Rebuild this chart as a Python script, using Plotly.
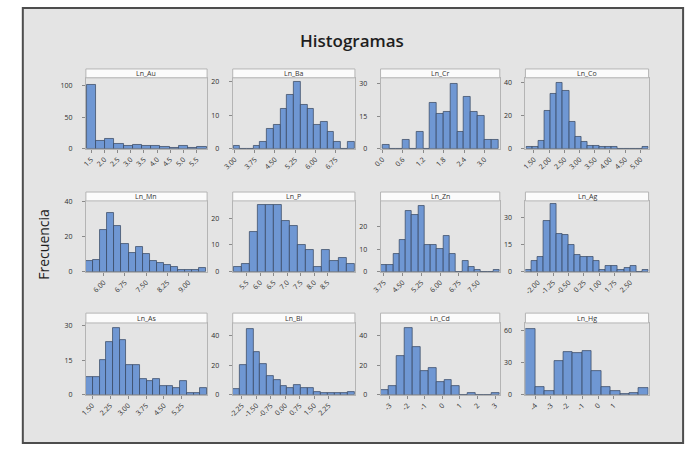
import plotly.graph_objects as go

W, H = 690, 452

# ---------------- data (bin midpoints, counts, bin widths, tick labels) ----------------
names = ["Ln_Au", "Ln_Ba", "Ln_Cr", "Ln_Co", "Ln_Mn", "Ln_P",
         "Ln_Zn", "Ln_Ag", "Ln_As", "Ln_Bi", "Ln_Cd", "Ln_Hg"]

au_mid = [1.50, 1.85, 2.20, 2.55, 2.90, 3.25, 3.60, 3.95, 4.30, 4.65, 5.00, 5.35, 5.70]
au_cnt = [102, 13, 15, 7, 4, 6, 4, 4, 3, 1, 4, 1, 3]
au_bin = 0.35
au_xt = [1.5, 2.0, 2.5, 3.0, 3.5, 4.0, 4.5, 5.0, 5.5]
au_xl = ["1.5", "2.0", "2.5", "3.0", "3.5", "4.0", "4.5", "5.0", "5.5"]
au_yt = [0, 50, 100]

ba_mid = [3.075, 3.325, 3.575, 3.825, 4.075, 4.325, 4.575, 4.825, 5.075, 5.325,
          5.575, 5.825, 6.075, 6.325, 6.575, 6.825, 7.075, 7.325]
ba_cnt = [1, 0, 0, 1, 2, 6, 7, 12, 16, 20, 13, 12, 7, 8, 5, 2, 0, 2]
ba_bin = 0.25
ba_xt = [3.00, 3.75, 4.50, 5.25, 6.00, 6.75]
ba_xl = ["3.00", "3.75", "4.50", "5.25", "6.00", "6.75"]
ba_yt = [0, 10, 20]

cr_mid = [0.1, 0.3, 0.5, 0.7, 0.9, 1.1, 1.3, 1.5, 1.7, 1.9, 2.1, 2.3, 2.5, 2.7, 2.9, 3.1, 3.3]
cr_cnt = [2, 0, 0, 4, 0, 8, 0, 21, 16, 17, 30, 8, 24, 17, 15, 4, 4]
cr_bin = 0.2
cr_xt = [0.0, 0.6, 1.2, 1.8, 2.4, 3.0]
cr_xl = ["0.0", "0.6", "1.2", "1.8", "2.4", "3.0"]
cr_yt = [0, 15, 30]

co_mid = [1.35, 1.55, 1.75, 1.95, 2.15, 2.35, 2.55, 2.75, 2.95, 3.15,
          3.35, 3.55, 3.75, 3.95, 4.15, 4.35, 4.55, 4.75, 4.95, 5.15]
co_cnt = [1, 1, 5, 23, 33, 40, 35, 16, 7, 4, 2, 2, 1, 1, 1, 0, 0, 0, 0, 1]
co_bin = 0.2
co_xt = [1.5, 2.0, 2.5, 3.0, 3.5, 4.0, 4.5, 5.0]
co_xl = ["1.50", "2.00", "2.50", "3.00", "3.50", "4.00", "4.50", "5.00"]
co_yt = [0, 20, 40]

mn_mid = [5.50, 5.75, 6.00, 6.25, 6.50, 6.75, 7.00, 7.25, 7.50, 7.75,
          8.00, 8.25, 8.50, 8.75, 9.00, 9.25, 9.50]
mn_cnt = [6, 7, 24, 34, 26, 16, 11, 14, 10, 6, 5, 4, 3, 1, 1, 1, 2]
mn_bin = 0.25
mn_xt = [6.00, 6.75, 7.50, 8.25, 9.00]
mn_xl = ["6.00", "6.75", "7.50", "8.25", "9.00"]
mn_yt = [0, 20, 40]

p_mid = [5.15, 5.45, 5.75, 6.05, 6.35, 6.65, 6.95, 7.25, 7.55, 7.85, 8.15, 8.45, 8.75, 9.05, 9.35]
p_cnt = [2, 3, 15, 25, 25, 25, 19, 17, 10, 8, 2, 8, 4, 5, 3]
p_bin = 0.3
p_xt = [5.5, 6.0, 6.5, 7.0, 7.5, 8.0, 8.5]
p_xl = ["5.5", "6.0", "6.5", "7.0", "7.5", "8.0", "8.5"]
p_yt = [0, 10, 20]

zn_mid = [3.75, 4.00, 4.25, 4.50, 4.75, 5.00, 5.25, 5.50, 5.75, 6.00,
          6.25, 6.50, 6.75, 7.00, 7.25, 7.50, 7.75, 8.00, 8.25]
zn_cnt = [3, 3, 8, 14, 27, 25, 29, 12, 12, 10, 16, 8, 0, 5, 2, 1, 0, 0, 1]
zn_bin = 0.25
zn_xt = [3.75, 4.50, 5.25, 6.00, 6.75, 7.50]
zn_xl = ["3.75", "4.50", "5.25", "6.00", "6.75", "7.50"]
zn_yt = [0, 10, 20]

ag_mid = [-2.45, -2.15, -1.85, -1.55, -1.25, -0.95, -0.65, -0.35, -0.05, 0.25,
          0.55, 0.85, 1.15, 1.45, 1.75, 2.05, 2.35, 2.65, 2.95, 3.25]
ag_cnt = [1, 6, 8, 28, 37, 21, 20, 15, 9, 8, 8, 6, 1, 3, 3, 1, 2, 3, 0, 1]
ag_bin = 0.3
ag_xt = [-2.00, -1.25, -0.50, 0.25, 1.00, 1.75, 2.50]
ag_xl = ["-2.00", "-1.25", "-0.50", "0.25", "1.00", "1.75", "2.50"]
ag_yt = [0, 15, 30]

as_mid = [1.39, 1.67, 1.95, 2.23, 2.51, 2.79, 3.07, 3.35, 3.63, 3.91,
          4.19, 4.47, 4.75, 5.03, 5.31, 5.59, 5.87, 6.15]
as_cnt = [8, 8, 15, 23, 29, 24, 13, 13, 7, 6, 7, 4, 4, 3, 6, 1, 1, 3]
as_bin = 0.28
as_xt = [1.50, 2.25, 3.00, 3.75, 4.50, 5.25]
as_xl = ["1.50", "2.25", "3.00", "3.75", "4.50", "5.25"]
as_yt = [0, 15, 30]

bi_mid = [-2.525, -2.175, -1.825, -1.475, -1.125, -0.775, -0.425, -0.075, 0.275,
          0.625, 0.975, 1.325, 1.675, 2.025, 2.375, 2.725, 3.075, 3.425]
bi_cnt = [4, 20, 45, 29, 21, 13, 10, 6, 5, 7, 5, 5, 2, 1, 1, 1, 1, 2]
bi_bin = 0.35
bi_xt = [-2.25, -1.50, -0.75, 0.00, 0.75, 1.50, 2.25]
bi_xl = ["-2.25", "-1.50", "-0.75", "0.00", "0.75", "1.50", "2.25"]
bi_yt = [0, 20, 40]

cd_mid = [-3.275, -2.825, -2.375, -1.925, -1.475, -1.025, -0.575, -0.125,
          0.325, 0.775, 1.225, 1.675, 2.125, 2.575, 3.025]
cd_cnt = [3, 6, 26, 45, 32, 16, 18, 9, 10, 6, 0, 1, 0, 0, 1]
cd_bin = 0.45
cd_xt = [-3, -2, -1, 0, 1, 2, 3]
cd_xl = ["-3", "-2", "-1", "0", "1", "2", "3"]
cd_yt = [0, 20, 40]

hg_mid = [-4.3, -3.7, -3.1, -2.5, -1.9, -1.3, -0.7, -0.1, 0.5, 1.1, 1.7, 2.3, 2.9]
hg_cnt = [61, 7, 4, 31, 40, 39, 41, 22, 7, 4, 1, 2, 6]
hg_bin = 0.6
hg_xt = [-4, -3, -2, -1, 0, 1]
hg_xl = ["-4", "-3", "-2", "-1", "0", "1"]
hg_yt = [0, 30, 60]

# ---------------- layout geometry (window pixels) ----------------
x_ranges = [[1.30, 5.90], [2.93, 7.47], [-0.05, 3.45], [1.22, 5.27],
            [5.37, 9.66], [4.98, 9.52], [3.62, 8.38], [-2.60, 3.40],
            [1.24, 6.30], [-2.72, 3.62], [-3.52, 3.27], [-4.62, 3.22]]
y_max = [113, 21.2, 32.7, 42.8, 40.6, 26.4, 31.2, 38.9, 31.3, 48.8, 48.4, 66.6]

col_px = [(77, 200), (226, 350), (376, 497), (523, 648)]
row_px = [(76, 148), (201, 273), (325, 398)]
strip_px = [(67, 76), (192, 201), (315, 325)]


def px(v):
    return v / W


def py(v):
    return 1 - v / H


panels = [
    (au_mid, au_cnt, au_bin, au_xt, au_xl, au_yt),
    (ba_mid, ba_cnt, ba_bin, ba_xt, ba_xl, ba_yt),
    (cr_mid, cr_cnt, cr_bin, cr_xt, cr_xl, cr_yt),
    (co_mid, co_cnt, co_bin, co_xt, co_xl, co_yt),
    (mn_mid, mn_cnt, mn_bin, mn_xt, mn_xl, mn_yt),
    (p_mid, p_cnt, p_bin, p_xt, p_xl, p_yt),
    (zn_mid, zn_cnt, zn_bin, zn_xt, zn_xl, zn_yt),
    (ag_mid, ag_cnt, ag_bin, ag_xt, ag_xl, ag_yt),
    (as_mid, as_cnt, as_bin, as_xt, as_xl, as_yt),
    (bi_mid, bi_cnt, bi_bin, bi_xt, bi_xl, bi_yt),
    (cd_mid, cd_cnt, cd_bin, cd_xt, cd_xl, cd_yt),
    (hg_mid, hg_cnt, hg_bin, hg_xt, hg_xl, hg_yt),
]

BAR_FILL = "#6f97d3"
BAR_LINE = "#34435c"
AX_LINE = "#b4b4b4"
TXT = "#2e2e2e"
FONT = "Open Sans"

fig = go.Figure()
layout = dict(
    width=W, height=H, margin=dict(l=0, r=0, t=0, b=0),
    paper_bgcolor="white", plot_bgcolor="white",
    showlegend=False, bargap=0,
    font=dict(family=FONT, size=7, color=TXT),
)
shapes = [dict(type="rect", xref="paper", yref="paper",
               x0=px(13), x1=px(683), y0=py(447), y1=py(5),
               fillcolor="#e4e4e4", line=dict(color="#4d4d4d", width=2), layer="below")]
annotations = []

for i, (mid, cnt, binw, xt, xl, yt) in enumerate(panels):
    r, c = divmod(i, 4)
    k = "" if i == 0 else str(i + 1)
    x0, x1 = col_px[c]
    y0, y1 = row_px[r]
    fig.add_trace(go.Bar(
        x=mid, y=cnt, width=[binw] * len(mid),
        marker=dict(color=BAR_FILL, line=dict(color=BAR_LINE, width=0.7)),
        xaxis="x" + k, yaxis="y" + k, hoverinfo="x+y",
    ))
    layout["xaxis" + k] = dict(
        domain=[px(x0), px(x1)], anchor="y" + k, range=x_ranges[i],
        tickmode="array", tickvals=xt, ticktext=xl, tickangle=-45,
        ticks="outside", ticklen=3, tickwidth=1, tickcolor="#8a8a8a",
        showline=True, mirror=True, linecolor=AX_LINE, linewidth=1,
        showgrid=False, zeroline=False,
        tickfont=dict(family=FONT, size=7, color=TXT),
    )
    layout["yaxis" + k] = dict(
        domain=[py(y1), py(y0)], anchor="x" + k, range=[0, y_max[i]],
        tickmode="array", tickvals=yt,
        ticks="outside", ticklen=3, tickwidth=1, tickcolor="#8a8a8a",
        ticklabelstandoff=8,
        showline=True, mirror=True, linecolor=AX_LINE, linewidth=1,
        showgrid=False, zeroline=False,
        tickfont=dict(family=FONT, size=7, color=TXT),
    )
    s0, s1 = strip_px[r]
    shapes.append(dict(type="rect", xref="paper", yref="paper",
                       x0=px(x0), x1=px(x1), y0=py(s1), y1=py(s0),
                       fillcolor="#fbfbfb", line=dict(color=AX_LINE, width=1)))
    annotations.append(dict(text=names[i], xref="paper", yref="paper",
                            x=px((x0 + x1) / 2), y=py((s0 + s1) / 2),
                            xanchor="center", yanchor="middle", showarrow=False,
                            font=dict(family=FONT, size=7, color="#333333")))

annotations.append(dict(text="Histogramas", xref="paper", yref="paper",
                        x=px(347), y=py(38), xanchor="center", yanchor="middle",
                        showarrow=False,
                        font=dict(family=FONT, size=17, color="#1e1e1e", weight=600)))
annotations.append(dict(text="Frecuencia", xref="paper", yref="paper",
                        x=px(34), y=py(245), xanchor="center", yanchor="middle",
                        textangle=-90, showarrow=False,
                        font=dict(family=FONT, size=14, color="#1e1e1e")))

layout["shapes"] = shapes
layout["annotations"] = annotations
fig.update_layout(**layout)
fig.write_html(
    "out.html",
    config={"displayModeBar": False},
    post_script="document.body.style.margin='0';document.body.style.overflow='hidden';",
)
